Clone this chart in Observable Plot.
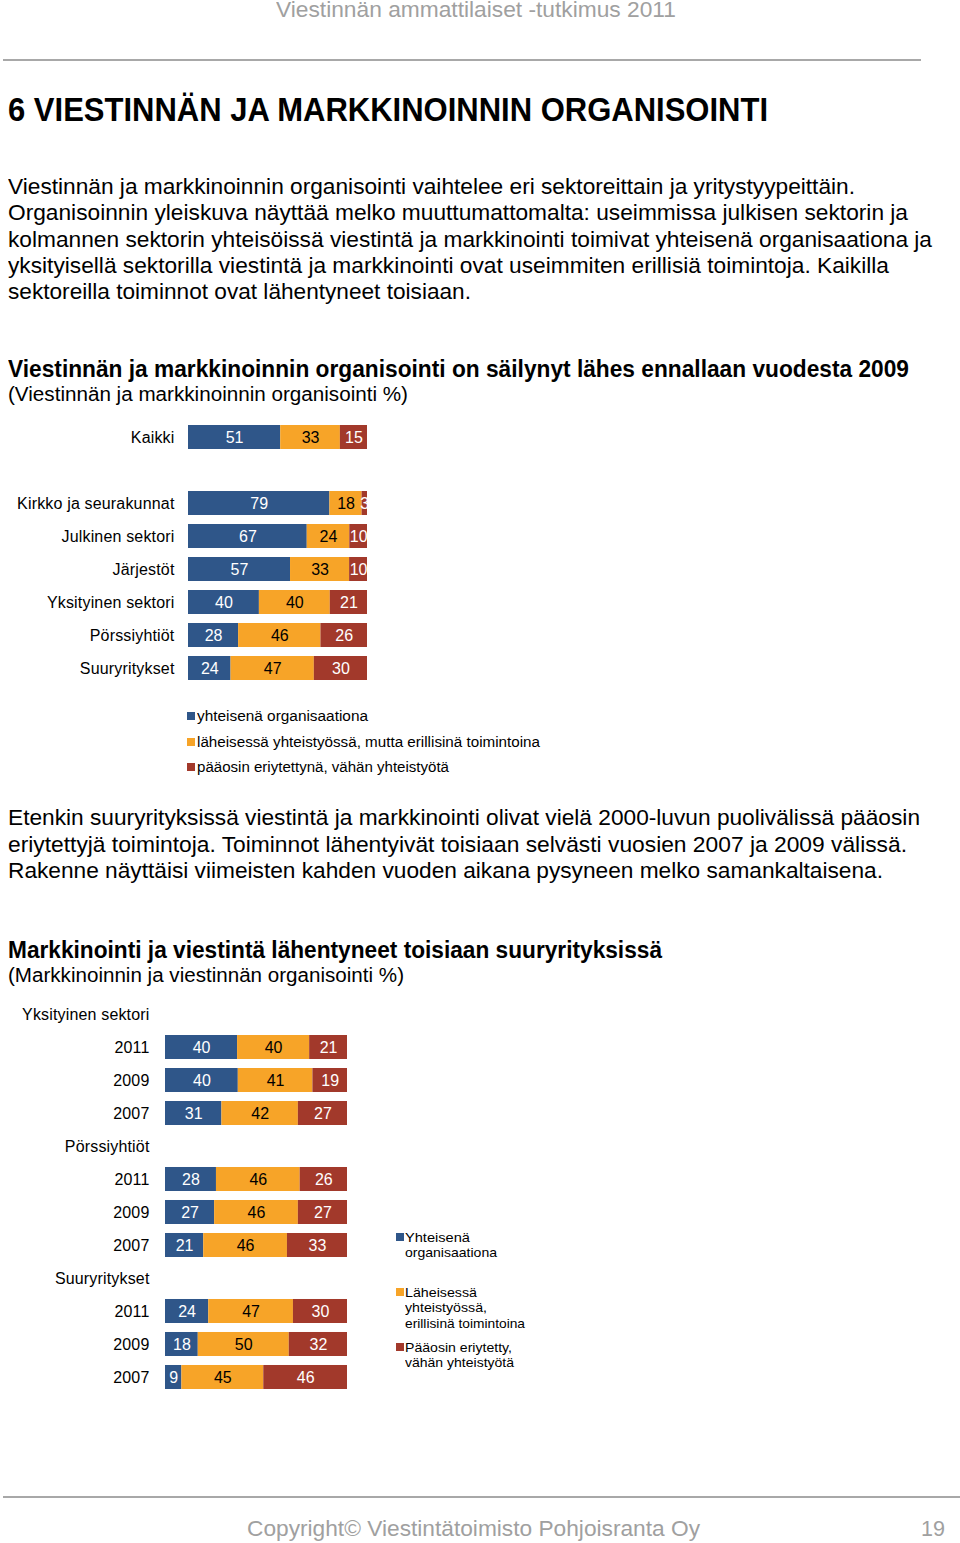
<!DOCTYPE html>
<html>
<head>
<meta charset="utf-8">
<script src="https://cdn.jsdelivr.net/npm/d3@7"></script>
<script src="https://cdn.jsdelivr.net/npm/@observablehq/plot@0.6"></script>
<style>
  html, body { margin: 0; padding: 0; background: #fff; }
  body { width: 960px; height: 1543px; position: relative; overflow: hidden; font-family: "Liberation Sans", Arial, sans-serif; }
  .t { position: absolute; white-space: nowrap; line-height: 1; transform-origin: 0 0; }
  .rule { position: absolute; height: 2px; background: #a8a8a8; }
  .sq { position: absolute; width: 8px; height: 8px; }
  svg g[aria-label="y-axis tick label"] text { letter-spacing: 0.17px; }
</style>
</head>
<body>
<script>
// ---------- Data ----------
const seriesNames = [
  "yhteisenä organisaationa",
  "läheisessä yhteistyössä, mutta erillisinä toimintoina",
  "pääosin eriytettynä, vähän yhteistyötä"
];
const seriesColors = ["#2F5689", "#F7A428", "#A2392B"];

// Chart 1
const rows1 = ["Kaikki", " ", "Kirkko ja seurakunnat", "Julkinen sektori", "Järjestöt", "Yksityinen sektori", "Pörssiyhtiöt", "Suuryritykset"];
const barRows1 = ["Kaikki", "Kirkko ja seurakunnat", "Julkinen sektori", "Järjestöt", "Yksityinen sektori", "Pörssiyhtiöt", "Suuryritykset"];
const joint1 = [51, 79, 67, 57, 40, 28, 24];
const close1 = [33, 18, 24, 33, 40, 46, 47];
const separate1 = [15, 3, 10, 10, 21, 26, 30];

// Chart 2
const groups2 = ["Yksityinen sektori", "Pörssiyhtiöt", "Suuryritykset"];
const years2 = ["2011", "2009", "2007"];
const joint2 = [40, 40, 31, 28, 27, 21, 24, 18, 9];
const close2 = [40, 41, 42, 46, 46, 46, 47, 50, 45];
const separate2 = [21, 19, 27, 26, 27, 33, 30, 32, 46];
const legend2Lines = [
  ["Yhteisenä", "organisaationa"],
  ["Läheisessä", "yhteistyössä,", "erillisinä toimintoina"],
  ["Pääosin eriytetty,", "vähän yhteistyötä"]
];

// Texts
const headerText = "Viestinnän ammattilaiset -tutkimus 2011";
const pageTitle = "6 VIESTINNÄN JA MARKKINOINNIN ORGANISOINTI";
const para1 = [
  "Viestinnän ja markkinoinnin organisointi vaihtelee eri sektoreittain ja yritystyypeittäin.",
  "Organisoinnin yleiskuva näyttää melko muuttumattomalta: useimmissa julkisen sektorin ja",
  "kolmannen sektorin yhteisöissä viestintä ja markkinointi toimivat yhteisenä organisaationa ja",
  "yksityisellä sektorilla viestintä ja markkinointi ovat useimmiten erillisiä toimintoja. Kaikilla",
  "sektoreilla toiminnot ovat lähentyneet toisiaan."
];
const chart1Title = "Viestinnän ja markkinoinnin organisointi on säilynyt lähes ennallaan vuodesta 2009";
const chart1Sub = "(Viestinnän ja markkinoinnin organisointi %)";
const para2 = [
  "Etenkin suuryrityksissä viestintä ja markkinointi olivat vielä 2000-luvun puolivälissä pääosin",
  "eriytettyjä toimintoja. Toiminnot lähentyivät toisiaan selvästi vuosien 2007 ja 2009 välissä.",
  "Rakenne näyttäisi viimeisten kahden vuoden aikana pysyneen melko samankaltaisena."
];
const chart2Title = "Markkinointi ja viestintä lähentyneet toisiaan suuryrityksissä";
const chart2Sub = "(Markkinoinnin ja viestinnän organisointi %)";
const footerText = "Copyright© Viestintätoimisto Pohjoisranta Oy";
const pageNumber = "19";

// ---------- Helpers ----------
function addText(str, x, baseline, size, opts = {}) {
  const d = document.createElement("div");
  d.className = "t";
  d.textContent = str;
  d.style.left = x + "px";
  d.style.top = (baseline - 0.8465 * size) + "px";
  d.style.fontSize = size + "px";
  if (opts.bold) d.style.fontWeight = "bold";
  d.style.color = opts.color || "#000";
  document.body.appendChild(d);
  if (opts.width) {
    const w = d.getBoundingClientRect().width;
    d.style.transform = `scaleX(${opts.width / w})`;
  }
  return d;
}
function addRule(x, y, w) {
  const r = document.createElement("div");
  r.className = "rule";
  r.style.left = x + "px"; r.style.top = y + "px"; r.style.width = w + "px";
  document.body.appendChild(r);
}
function addSquare(x, y, color) {
  const s = document.createElement("div");
  s.className = "sq";
  s.style.left = x + "px"; s.style.top = y + "px"; s.style.background = color;
  document.body.appendChild(s);
}

// ---------- Page texts ----------
const gray = "#a0a0a0";
addText(headerText, 276, 18, 22, {color: gray, width: 400});
addRule(3, 59, 918);
addText(pageTitle, 8, 121, 33, {bold: true, width: 760});
const para1Widths = [847, 900, 924, 881, 463];
para1.forEach((l, i) => addText(l, 8, 195 + i * 26.1, 22, {width: para1Widths[i]}));
addText(chart1Title, 8, 377, 23, {bold: true, width: 901});
addText(chart1Sub, 8, 401, 20, {width: 400});

// legend 1
const leg1Widths = [171, 343, 252];
seriesNames.forEach((n, i) => {
  const b = 721 + i * 25.5;
  addSquare(187, b - 9, seriesColors[i]);
  addText(n, 197, b, 14, {width: leg1Widths[i]});
});

const para2Widths = [912, 899, 875];
para2.forEach((l, i) => addText(l, 8, 826 + i * 26.5, 22, {width: para2Widths[i]}));
addText(chart2Title, 8, 958, 23, {bold: true, width: 654});
addText(chart2Sub, 8, 982, 20, {width: 396});

// legend 2
const leg2Base = [1242, 1297, 1352];
const leg2Widths = [[65, 92], [72, 82, 120], [107, 109]];
legend2Lines.forEach((lines, i) => {
  addSquare(396, leg2Base[i] - 9, seriesColors[i]);
  lines.forEach((l, j) => addText(l, 405, leg2Base[i] + j * 15.5, 13, {width: leg2Widths[i][j]}));
});

addRule(3, 1496, 957);
addText(footerText, 247, 1537, 22, {color: gray, width: 453});
addText(pageNumber, 921, 1537, 22, {color: gray, width: 24});

// ---------- Chart 1 ----------
const data1 = [];
barRows1.forEach((r, i) => {
  [joint1, close1, separate1].forEach((arr, k) => data1.push({row: r, series: seriesNames[k], value: arr[i]}));
});
const font = "'Liberation Sans', Arial, sans-serif";
const step1 = 33;
const chart1 = Plot.plot({
  width: 380, height: step1 * rows1.length,
  marginLeft: 188, marginRight: 13, marginTop: 0, marginBottom: 0,
  style: {fontFamily: font, fontSize: "16px", color: "#000", background: "transparent", overflow: "visible"},
  x: {axis: null, domain: [0, 1]},
  y: {domain: rows1, paddingInner: 0.27, paddingOuter: 0.135, label: null, tickSize: 0, tickPadding: 14},
  color: {domain: seriesNames, range: seriesColors},
  marks: [
    Plot.barX(data1, Plot.stackX({offset: "normalize", y: "row", x: "value", fill: "series"})),
    Plot.text(data1, Plot.stackX({
      offset: "normalize", y: "row", x: "value", z: "series",
      text: d => String(d.value),
      fill: d => d.series === seriesNames[1] ? "#000" : "#fff",
      fontSize: 16, clip: true
    }))
  ]
});
chart1.style.position = "absolute";
chart1.style.left = "0px";
chart1.style.top = (437 - step1 / 2) + "px";
document.body.appendChild(chart1);

// ---------- Chart 2 ----------
const rows2 = [];
const data2 = [];
let idx = 0;
groups2.forEach(g => {
  rows2.push(g);
  years2.forEach(y => {
    const key = g + "|" + y;
    rows2.push(key);
    [joint2, close2, separate2].forEach((arr, k) => data2.push({row: key, series: seriesNames[k], value: arr[idx]}));
    idx++;
  });
});
const step2 = (1381 - 1010) / 11;
const chart2 = Plot.plot({
  width: 360, height: step2 * rows2.length,
  marginLeft: 165, marginRight: 13, marginTop: 0, marginBottom: 0,
  style: {fontFamily: font, fontSize: "16px", color: "#000", background: "transparent", overflow: "visible"},
  x: {axis: null, domain: [0, 1]},
  y: {domain: rows2, paddingInner: 0.27, paddingOuter: 0.135, label: null, tickSize: 0, tickPadding: 16,
      tickFormat: d => d.includes("|") ? d.split("|")[1] : d},
  color: {domain: seriesNames, range: seriesColors},
  marks: [
    Plot.barX(data2, Plot.stackX({offset: "normalize", y: "row", x: "value", fill: "series"})),
    Plot.text(data2, Plot.stackX({
      offset: "normalize", y: "row", x: "value", z: "series",
      text: d => String(d.value),
      fill: d => d.series === seriesNames[1] ? "#000" : "#fff",
      fontSize: 16, clip: true
    }))
  ]
});
chart2.style.position = "absolute";
chart2.style.left = "0px";
chart2.style.top = (1010 - step2 / 2) + "px";
document.body.appendChild(chart2);
</script>
</body>
</html>
